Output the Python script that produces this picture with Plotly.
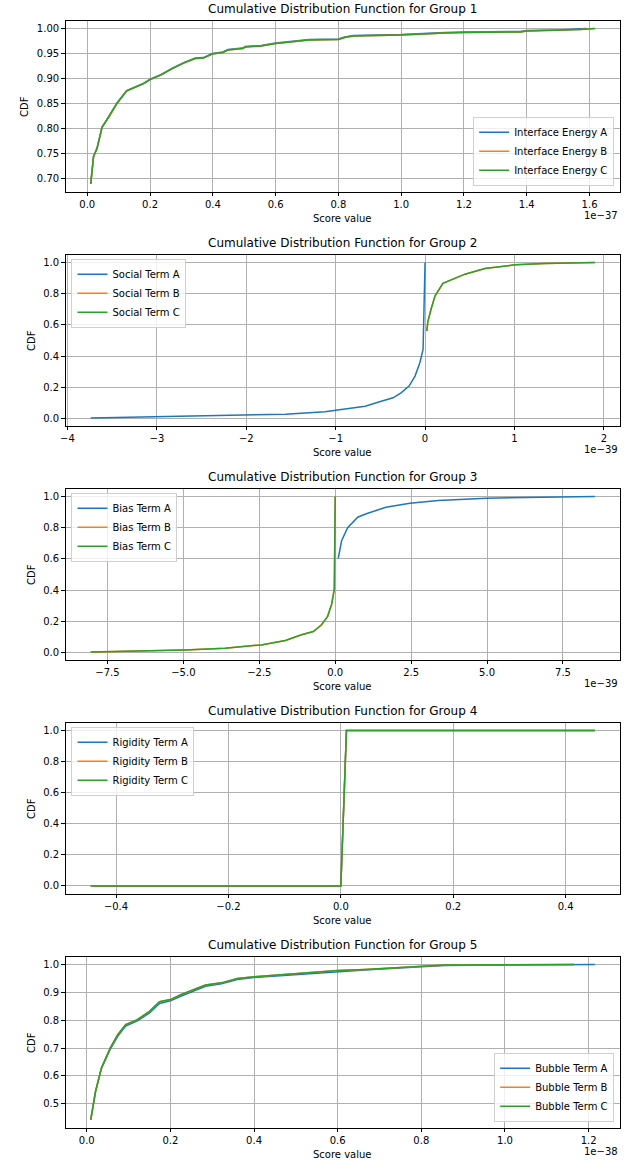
import plotly.graph_objects as go

# ---------------- data (x values in units of the offset shown on each axis) ----------------
# Group 1 (x in 1e-37)
g1_a_x = [0.011, 0.02, 0.031, 0.047, 0.07, 0.094, 0.125, 0.156, 0.18, 0.2, 0.234, 0.271, 0.307, 0.344, 0.37, 0.398,
          0.432, 0.448, 0.495, 0.503, 0.554, 0.6, 0.63, 0.656, 0.707, 0.8, 0.82, 0.847, 1.0, 1.14, 1.2, 1.38, 1.4, 1.5, 1.59]
g1_a_y = [0.69, 0.745, 0.762, 0.803, 0.826, 0.851, 0.876, 0.884, 0.891, 0.899, 0.908, 0.921, 0.932, 0.941, 0.942, 0.95,
          0.953, 0.958, 0.961, 0.964, 0.966, 0.971, 0.973, 0.976, 0.978, 0.979, 0.983, 0.986, 0.988, 0.992, 0.993, 0.994, 0.996, 0.997, 1.0]
g1_b_x = [0.011, 0.02, 0.031, 0.047, 0.07, 0.094, 0.125, 0.156, 0.18, 0.2, 0.234, 0.271, 0.307, 0.344, 0.37, 0.398,
          0.432, 0.448, 0.495, 0.503, 0.554, 0.6, 0.63, 0.656, 0.707, 0.8, 0.82, 0.847, 1.0, 1.14, 1.2, 1.38, 1.4, 1.57, 1.617]
g1_b_y = [0.69, 0.745, 0.76, 0.803, 0.825, 0.85, 0.875, 0.883, 0.89, 0.898, 0.907, 0.92, 0.931, 0.94, 0.941, 0.949,
          0.952, 0.957, 0.96, 0.963, 0.965, 0.97, 0.972, 0.975, 0.977, 0.978, 0.982, 0.985, 0.987, 0.991, 0.992, 0.993, 0.995, 0.998, 1.0]
g1_c_x = list(g1_b_x)
g1_c_y = list(g1_b_y)

# Group 2 (x in 1e-39)
g2_a_x = [-3.74, -2.995, -2.01, -1.56, -1.12, -0.894, -0.67, -0.49, -0.358, -0.268, -0.179, -0.112, -0.058, -0.022, 0.0]
g2_a_y = [0.004, 0.011, 0.021, 0.028, 0.043, 0.062, 0.079, 0.111, 0.133, 0.165, 0.208, 0.272, 0.358, 0.443, 1.0]
g2_b_x = [0.02, 0.031, 0.067, 0.112, 0.2, 0.358, 0.447, 0.67, 1.006, 1.34, 1.9]
g2_b_y = [0.561, 0.62, 0.70, 0.786, 0.867, 0.904, 0.925, 0.961, 0.985, 0.994, 1.0]
g2_c_x = list(g2_b_x)
g2_c_y = list(g2_b_y)

# Group 3 (x in 1e-39)
g3_a_x = [0.1, 0.21, 0.41, 0.74, 1.0, 1.67, 2.46, 3.39, 4.98, 7.63, 8.55]
g3_a_y = [0.604, 0.716, 0.80, 0.867, 0.888, 0.931, 0.957, 0.974, 0.989, 0.999, 1.0]
g3_b_x = [-8.05, -6.5, -4.95, -3.63, -2.44, -1.64, -1.11, -0.72, -0.45, -0.25, -0.12, -0.03, 0.0]
g3_b_y = [0.004, 0.01, 0.017, 0.028, 0.049, 0.077, 0.114, 0.135, 0.178, 0.232, 0.308, 0.404, 1.0]
g3_c_x = list(g3_b_x)
g3_c_y = list(g3_b_y)

# Group 4
g4_a_x = [-0.445, 0.0, 0.01, 0.452]
g4_a_y = [0.0, 0.0, 1.0, 1.0]
g4_b_x = list(g4_a_x)
g4_b_y = list(g4_a_y)
g4_c_x = list(g4_a_x)
g4_c_y = list(g4_a_y)

# Group 5 (x in 1e-38)
g5_a_x = [0.0095, 0.021, 0.035, 0.056, 0.074, 0.093, 0.121, 0.15, 0.174, 0.2, 0.226, 0.255, 0.284, 0.322, 0.36, 0.4,
          0.474, 0.532, 0.6, 0.665, 0.8, 0.856, 1.0, 1.1, 1.215]
g5_a_y = [0.442, 0.544, 0.626, 0.695, 0.742, 0.779, 0.798, 0.826, 0.86, 0.87, 0.887, 0.905, 0.922, 0.931, 0.946, 0.953,
          0.961, 0.966, 0.975, 0.98, 0.992, 0.996, 0.998, 0.999, 1.0]
g5_b_x = [0.0095, 0.021, 0.035, 0.056, 0.074, 0.093, 0.121, 0.15, 0.174, 0.2, 0.226, 0.255, 0.284, 0.322, 0.36, 0.4,
          0.474, 0.532, 0.6, 0.665, 0.8, 0.856, 1.0, 1.1, 1.165]
g5_b_y = [0.442, 0.544, 0.628, 0.70, 0.748, 0.784, 0.802, 0.832, 0.866, 0.874, 0.892, 0.91, 0.926, 0.934, 0.95, 0.956,
          0.964, 0.968, 0.978, 0.982, 0.994, 0.998, 0.999, 1.0, 1.0]
g5_c_x = list(g5_b_x)
g5_c_y = list(g5_b_y)

groups = [
    dict(names=["Interface Energy A", "Interface Energy B", "Interface Energy C"],
         series=[(g1_a_x, g1_a_y), (g1_b_x, g1_b_y), (g1_c_x, g1_c_y)],
         offset="1e\u221237", xdtick=0.2, xfmt=".1f", ydtick=0.05, yfmt=".2f", legend="lr"),
    dict(names=["Social Term A", "Social Term B", "Social Term C"],
         series=[(g2_a_x, g2_a_y), (g2_b_x, g2_b_y), (g2_c_x, g2_c_y)],
         offset="1e\u221239", xdtick=1, xfmt="d", ydtick=0.2, yfmt=".1f", legend="ul"),
    dict(names=["Bias Term A", "Bias Term B", "Bias Term C"],
         series=[(g3_a_x, g3_a_y), (g3_b_x, g3_b_y), (g3_c_x, g3_c_y)],
         offset="1e\u221239", xdtick=2.5, xfmt=".1f", ydtick=0.2, yfmt=".1f", legend="ul"),
    dict(names=["Rigidity Term A", "Rigidity Term B", "Rigidity Term C"],
         series=[(g4_a_x, g4_a_y), (g4_b_x, g4_b_y), (g4_c_x, g4_c_y)],
         offset="", xdtick=0.2, xfmt=".1f", ydtick=0.2, yfmt=".1f", legend="ul"),
    dict(names=["Bubble Term A", "Bubble Term B", "Bubble Term C"],
         series=[(g5_a_x, g5_a_y), (g5_b_x, g5_b_y), (g5_c_x, g5_c_y)],
         offset="1e\u221238", xdtick=0.2, xfmt=".1f", ydtick=0.1, yfmt=".1f", legend="lr"),
]
colors = ["#1f77b4", "#ff7f0e", "#2ca02c"]

# ---------------- layout geometry (pixels) ----------------
W, H = 632, 1162
AX_L, AX_R = 61, 620
AX_TOP0, AX_STEP, AX_H = 20.7, 234.0, 171.0
FONT = "DejaVu Sans"


def px(x):
    return x / W


def py(y):
    return 1 - y / H


def padded(vals):
    lo, hi = min(vals), max(vals)
    d = hi - lo
    return [lo - 0.05 * d, hi + 0.05 * d]


fig = go.Figure()
annotations = []
layout = dict(width=W, height=H, margin=dict(l=0, r=0, t=0, b=0), autosize=False,
              plot_bgcolor="white", paper_bgcolor="white",
              font=dict(family=FONT, size=10, color="black"), showlegend=True)

for i, g in enumerate(groups):
    k = i + 1
    sfx = "" if k == 1 else str(k)
    top = AX_TOP0 + AX_STEP * i
    bot = top + AX_H
    legname = "legend" if k == 1 else f"legend{k}"
    allx, ally = [], []
    for j, (name, (xs, ys)) in enumerate(zip(g["names"], g["series"])):
        allx += xs
        ally += ys
        fig.add_trace(go.Scatter(x=xs, y=ys, mode="lines", name=name,
                                 line=dict(color=colors[j], width=1.5),
                                 xaxis=f"x{sfx}", yaxis=f"y{sfx}", legend=legname))
    axcommon = dict(showline=True, mirror=True, linecolor="black", linewidth=0.8,
                    ticks="outside", ticklen=3.5, tickwidth=0.8, tickcolor="black",
                    showgrid=True, gridcolor="#b0b0b0", gridwidth=0.8, zeroline=False,
                    tickfont=dict(family=FONT, size=10, color="black"))
    layout[f"xaxis{sfx}"] = dict(axcommon, domain=[px(AX_L), px(AX_R)], anchor=f"y{sfx}",
                                 range=padded(allx), dtick=g["xdtick"], tick0=0,
                                 tickformat=g["xfmt"])
    layout[f"yaxis{sfx}"] = dict(axcommon, domain=[py(bot), py(top)], anchor=f"x{sfx}",
                                 range=padded(ally), dtick=g["ydtick"], tick0=0,
                                 tickformat=g["yfmt"])
    # legend
    leg = dict(font=dict(family=FONT, size=10), bgcolor="rgba(255,255,255,0.8)",
               bordercolor="#d0d0d0", borderwidth=1, tracegroupgap=0)
    if g["legend"] == "lr":
        leg.update(x=px(AX_R - 6), xanchor="right", y=py(bot - 6), yanchor="bottom")
    else:
        leg.update(x=px(AX_L + 6), xanchor="left", y=py(top + 4), yanchor="top")
    layout[legname] = leg
    # title
    annotations.append(dict(text=f"Cumulative Distribution Function for Group {k}", x=px((AX_L + AX_R) / 2),
                            y=py(top - 11.5), xref="paper", yref="paper", showarrow=False,
                            xanchor="center", yanchor="middle", font=dict(family=FONT, size=12)))
    annotations.append(dict(text="Score value", x=px((AX_L + AX_R) / 2), y=py(bot + 27),
                            xref="paper", yref="paper", showarrow=False, xanchor="center",
                            yanchor="middle", font=dict(family=FONT, size=10)))
    annotations.append(dict(text="CDF", x=px(19 if k == 1 else 26), y=py((top + bot) / 2),
                            xref="paper", yref="paper", showarrow=False, textangle=-90,
                            xanchor="center", yanchor="middle", font=dict(family=FONT, size=10)))
    if g["offset"]:
        annotations.append(dict(text=g["offset"], x=px(AX_R), y=py(bot + 24), xref="paper", yref="paper",
                                showarrow=False, xanchor="right", yanchor="middle",
                                font=dict(family=FONT, size=10)))

layout["annotations"] = annotations
fig.update_layout(**layout)

fig.write_html("out.html", config={"displayModeBar": False},
               post_script="document.body.style.margin='0';document.body.style.overflow='hidden';")
